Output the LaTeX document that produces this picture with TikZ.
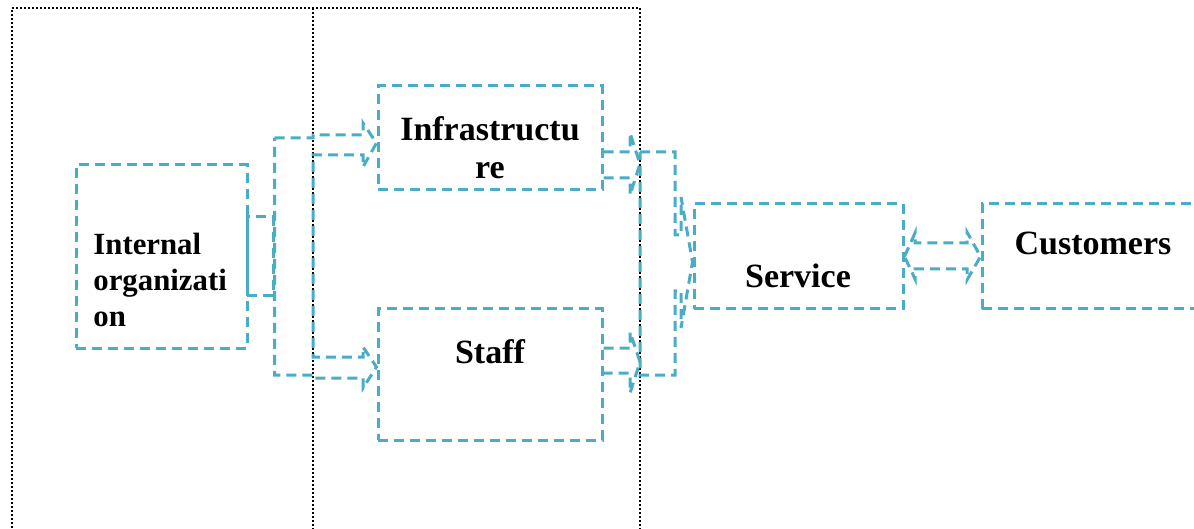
\documentclass[tikz,border=0pt]{standalone}
\usepackage{fontspec}
\setmainfont{Liberation Serif}
\definecolor{svcblue}{HTML}{4BACC6}
\tikzset{
 box/.style={draw=svcblue, line width=1.5pt, dash pattern=on 5pt off 3pt, inner sep=0pt},
 flow/.style={draw=svcblue, line width=1.5pt, dash pattern=on 5pt off 3pt, line join=miter},
 lbl/.style={font=\fontsize{17}{18}\selectfont\bfseries, inner sep=0pt},
 frame/.style={draw=black, line width=1pt, dash pattern=on 1pt off 1pt}
}

\begin{document}
\begin{tikzpicture}[x=0.5pt, y=-0.5pt]
 \clip (0,0) rectangle (1194,529);
 \draw[frame] (12,540) -- (12,8) -- (640,8) -- (640,540);
 \draw[frame] (313,8) -- (313,540);

 \node[box, minimum width=85.5pt, minimum height=91.5pt] (org) at (161.5,256.5) {};
 \node[box, minimum width=13pt, minimum height=39.5pt] (stub) at (260,256.5) {};
 \node[box, minimum width=112pt, minimum height=52pt] (infra) at (490,138) {};
 \node[box, minimum width=112pt, minimum height=65.5pt] (staff) at (490,374.5) {};
 \node[box, minimum width=104.5pt, minimum height=52.5pt] (service) at (798.5,256.5) {};
 \node[box, minimum width=114pt, minimum height=52.5pt] (customers) at (1096,256.5) {};

 \node[lbl, align=left, anchor=west, font=\fontsize{15.4}{17.8}\selectfont\bfseries] (orgtext) at (93,280) {Internal\\organizati\\on};
 \node[lbl, align=center, font=\fontsize{17}{19}\selectfont\bfseries] (infratext) at (490,148) {Infrastructu\\re};
 \node[lbl] (stafftext) at (490,352) {Staff};
 \node[lbl] (servicetext) at (798,276) {Service};
 \node[lbl] (customerstext) at (1093,243) {Customers};

 \draw[flow] (stub.north east |- 0,138) -- (313,138) -- (313,135) -- (363,135) -- (363,123) -- (infra.west |- 0,143) -- (363,167) -- (363,155) -- (313,155) -- (313,357) -- (363,357) -- (363,347) -- (staff.west |- 0,367) -- (363,388) -- (363,378) -- (313,378) -- (313,375) -- (stub.north east |- 0,375) -- cycle;
 \draw[flow] (infra.east |- 0,152) -- (630,152) -- (630,133) -- (640,164) -- (630,195) -- (630,178) -- (infra.east |- 0,178);
 \draw[flow] (staff.east |- 0,348) -- (630,348) -- (630,332) -- (640,362) -- (630,393) -- (630,373) -- (staff.east |- 0,373);
 \draw[flow] (640,152) -- (675,152) -- (675,235) -- (681,235) -- (681,197) -- (service.west |- 0,262) -- (681,328) -- (681,291) -- (675,291) -- (675,375) -- (640,375) -- cycle;
 \draw[flow] (service.east) -- (915,233) -- (915,243) -- (967,243) -- (967,232) -- (customers.west) -- (967,280) -- (967,269) -- (915,269) -- (915,279) -- cycle;
\end{tikzpicture}
\end{document}
